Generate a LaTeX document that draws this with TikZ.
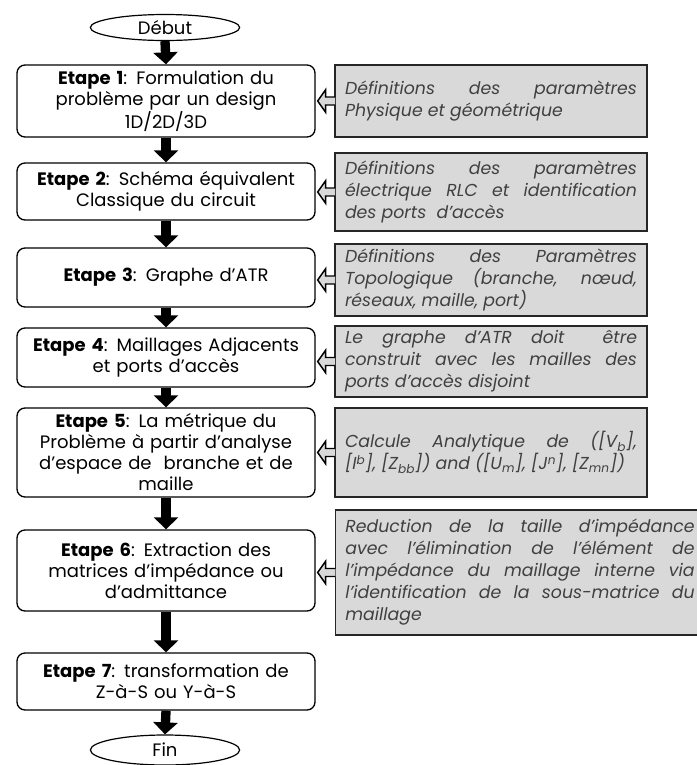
\documentclass[tikz,border=0pt]{standalone}
\usepackage{fontspec}
\setmainfont{Poppins}
\usepackage{tikz}
\usetikzlibrary{positioning,arrows.meta,shapes.geometric,calc}
\definecolor{sidefill}{RGB}{217,217,217}
\definecolor{sidetext}{RGB}{64,64,64}

\begin{document}
\begin{tikzpicture}[x=0.75pt, y=-0.75pt,
  term/.style={ellipse, draw=black, line width=0.9pt, fill=white,
               minimum width=112pt, minimum height=#1, inner sep=0pt,
               font=\fontsize{13.5pt}{15.75pt}\selectfont},
  stepbox/.style={rectangle, draw=black, line width=1pt, rounded corners=6pt,
                  fill=white, text width=214pt, inner xsep=4.75pt, inner ysep=0pt,
                  align=center, minimum height=#1,
                  font=\fontsize{13.5pt}{15.75pt}\selectfont},
  note/.style={rectangle, draw=black!85, line width=1.2pt, fill=sidefill,
               text=sidetext, text width=219pt, inner xsep=7.5pt, inner ysep=0pt,
               align=justify, minimum height=#1,
               font=\fontsize{13pt}{16.5pt}\selectfont\itshape},
  down/.style={line width=7pt, -{Triangle[length=9pt, width=18pt]}},
  hollow/.style={draw=black, line width=1.1pt, fill=sidefill, line join=miter},
]
\clip (0,0) rectangle (697,765);

\node[term=19.5pt] (debut) at (165, 27.5) {Début};

\node[stepbox=54pt]    (e1) at (166, 101)   {\textbf{Etape 1}: Formulation du\\ problème par un design\\ 1D/2D/3D};
\node[stepbox=42.75pt] (e2) at (166, 191.5) {\textbf{Etape 2}: Schéma équivalent\\ Classique du circuit};
\node[stepbox=44.25pt] (e3) at (166, 277.5) {\textbf{Etape 3}: Graphe d’ATR};
\node[stepbox=44.25pt] (e4) at (166, 357.5) {\textbf{Etape 4}: Maillages Adjacents\\ et ports d’accès};
\node[stepbox=66.75pt] (e5) at (166, 452.5) {\textbf{Etape 5}: La métrique du\\ Problème à partir d’analyse\\ d’espace de\ \ branche et de\\ maille};
\node[stepbox=60.75pt] (e6) at (166, 570.5) {\textbf{Etape 6}: Extraction des\\ matrices d’impédance ou\\ d’admittance};
\node[stepbox=42.75pt] (e7) at (166, 681.5) {\textbf{Etape 7}: transformation de\\ Z-à-S ou Y-à-S};

\node[term=22.5pt] (fin) at (165, 750) {Fin};

\node[note=54pt]    (s1) at (491, 101)   {Définitions des paramètres\linebreak Physique et géométrique};
\node[note=58.5pt]  (s2) at (491, 192)   {Définitions des paramètres\linebreak électrique RLC et identification\linebreak des ports\ \ d'accès};
\node[note=54pt]    (s3) at (491, 280)   {Définitions des Paramètres\linebreak Topologique (branche, nœud,\linebreak réseaux, maille, port)};
\node[note=53.25pt] (s4) at (491, 361.5) {Le graphe d'ATR doit\ \ être\linebreak construit avec les mailles des\linebreak ports d’accès disjoint};
\node[note=66.75pt] (s5) at (491, 452.5) {Calcule Analytique de ([V\textsubscript{b}],\linebreak{}[I\textsuperscript{b}], [Z\textsubscript{bb}]) and ([U\textsubscript{m}], [J\textsuperscript{n}], [Z\textsubscript{mn}])};
\node[note=93.75pt, text width=262pt] (s6) at (520, 572.5) {Reduction de la taille d’impédance\linebreak avec l’élimination de l’élément de\linebreak l’impédance du maillage interne via\linebreak l’identification de la sous-matrice du\linebreak maillage};

\foreach \a/\b in {debut/e1,e1/e2,e2/e3,e3/e4,e4/e5,e5/e6,e6/e7,e7/fin}
  \draw[down] (\a.south) -- (\b.north);

\foreach \s/\e in {s1/e1,s2/e2,s3/e3,s4/e4,s5/e5,s6/e6}
  \filldraw[hollow] let \p1=(\s.west), \p2=(\e.east) in
    (\x1+0.6pt,\y1+3pt) -- (\x2+7.5pt,\y1+3pt) -- (\x2+7.5pt,\y1+8.5pt) -- (\x2+1.5pt,\y1)
    -- (\x2+7.5pt,\y1-8.5pt) -- (\x2+7.5pt,\y1-3pt) -- (\x1+0.6pt,\y1-3pt);

\end{tikzpicture}
\end{document}
